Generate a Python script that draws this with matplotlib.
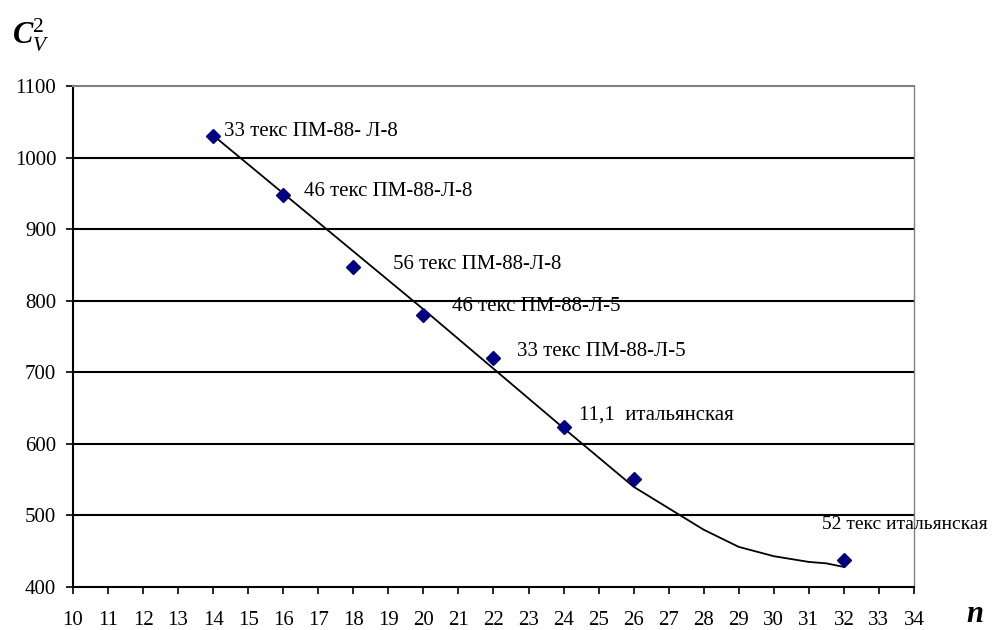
import matplotlib
matplotlib.use("Agg")
import matplotlib.pyplot as plt
import numpy as np

# Data
n_values = [14, 16, 18, 20, 22, 24, 26, 32]
cv2_values = [1030, 948, 847, 780, 720, 624, 551, 438]
point_labels = ["33 текс ПМ-88- Л-8", "46 текс ПМ-88-Л-8", "56 текс ПМ-88-Л-8",
                "46 текс ПМ-88-Л-5", "33 текс ПМ-88-Л-5", "11,1  итальянская",
                "", "52 текс итальянская"]
label_x = [14.31, 16.59, 19.13, 20.82, 22.67, 24.44, None, 31.37]
label_y = [1036, 952, 850, 792, 729, 640, None, 487]
label_size = [15, 15, 15, 15, 15, 15, 15, 14]

# trend curve
curve_n = [14, 16, 18, 20, 22, 24, 26, 27, 28, 29, 30, 31, 31.5, 31.8, 32]
curve_v = [1031, 950, 869, 788, 705, 622, 540, 510, 480, 456, 443, 435, 433, 430, 428]

x_ticks = list(range(10, 35))
y_ticks = [400, 500, 600, 700, 800, 900, 1000, 1100]

plt.rcParams['font.family'] = ['Liberation Serif', 'DejaVu Serif']
plt.rcParams['mathtext.fontset'] = 'custom'
plt.rcParams['mathtext.it'] = 'Liberation Serif:italic'
plt.rcParams['mathtext.bf'] = 'Liberation Serif:italic:bold'
plt.rcParams['mathtext.rm'] = 'Liberation Serif'

fig = plt.figure(figsize=(9.93, 6.30), dpi=100)
ax = fig.add_axes([0.0735, 0.0683, 0.8469, 0.7952])

ax.set_xlim(10, 34)
ax.set_ylim(400, 1100)
ax.set_xticks(x_ticks)
ax.set_yticks(y_ticks)
ax.tick_params(axis='both', direction='out', length=5, width=1.2, labelsize=15, colors='black')
ax.tick_params(axis='x', pad=12)
ax.tick_params(axis='y', pad=7)

for yv in y_ticks[1:-1]:
    ax.axhline(yv, color='black', lw=1.5, zorder=1)

ax.spines['left'].set_color('black')
ax.spines['bottom'].set_color('black')
ax.spines['left'].set_linewidth(1.5)
ax.spines['bottom'].set_linewidth(1.5)
ax.spines['top'].set_color('#808080')
ax.spines['right'].set_color('#808080')
ax.spines['top'].set_linewidth(1.5)
ax.spines['right'].set_linewidth(1.0)

ax.plot(curve_n, curve_v, color='black', lw=1.3, zorder=3)
ax.plot(n_values, cv2_values, linestyle='none', marker='D', markersize=7.5,
        color='#000080', zorder=4)

for lx, ly, lab, fs in zip(label_x, label_y, point_labels, label_size):
    if lab:
        ax.text(lx, ly, lab, fontsize=fs, ha='left', va='center', clip_on=False, zorder=5)

fig.text(12/993, 1 - 35/630, r'$\mathbf{C}_{\mathit{V}}^{\mathrm{2}}$', fontsize=22,
         ha='left', va='center')
fig.text(975/993, 1 - 615/630, r'$\mathbf{n}$', fontsize=22, ha='center', va='center')

fig.savefig('out.png', dpi=100, facecolor='white')
